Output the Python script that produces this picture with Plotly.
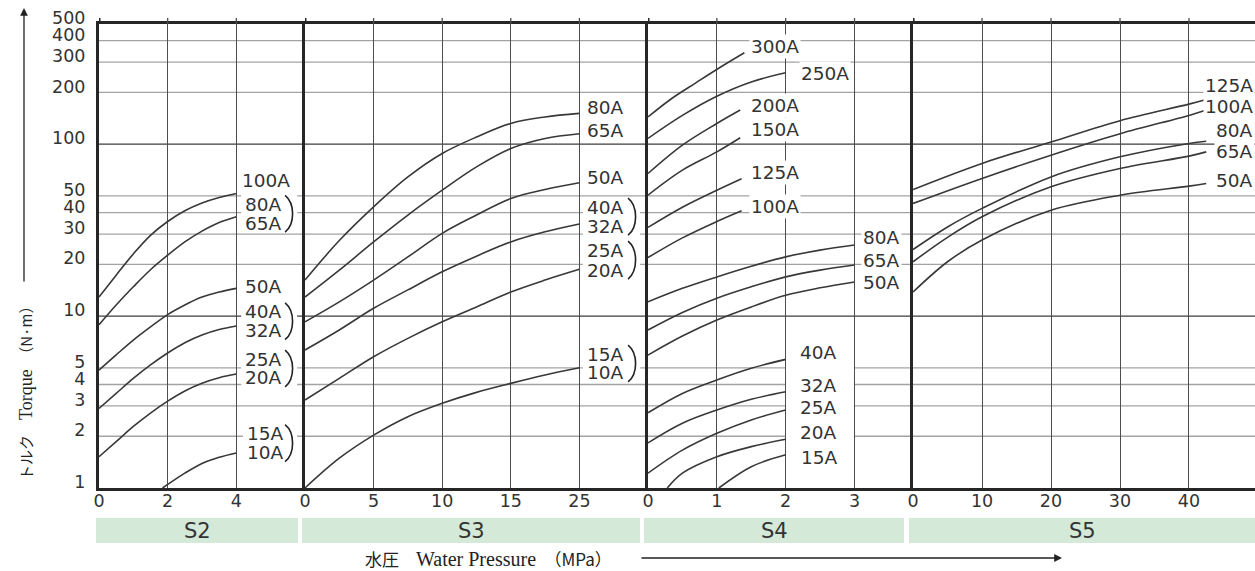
import math
import plotly.graph_objects as go

# ---------------- data ----------------
y_tick_vals = [1, 2, 3, 4, 5, 10, 20, 30, 40, 50, 100, 200, 300, 400, 500]
y_tick_text = ["1", "2", "3", "4", "5", "10", "20", "30", "40", "50", "100", "200", "300", "400", "500"]
y_grid_dark = [10, 100]
y_grid_light = [2, 3, 4, 5, 20, 30, 40, 50, 200, 300, 400]
y_max = 500

panel_names = ["S2", "S3", "S4", "S5"]
panel_x_max = [6, 25, 3.85, 49.57]
panel_tick_vals = [[0, 2, 4], [0, 5, 10, 15, 20], [0, 1, 2, 3], [0, 10, 20, 30, 40]]
panel_tick_text = [["0", "2", "4"], ["0", "5", "10", "15", "25"], ["0", "1", "2", "3"], ["0", "10", "20", "30", "40"]]

# S2
s2_x = [0, 0.5, 1, 1.5, 2, 2.5, 3, 3.5, 4]
s2_100A = [12.9, 17.3, 23.0, 29.5, 35.5, 41.0, 45.5, 49.0, 51.7]
s2_80A_65A = [8.9, 11.6, 14.8, 18.6, 22.6, 27.0, 31.2, 35.0, 37.8]
s2_50A = [4.85, 5.95, 7.25, 8.65, 10.2, 11.6, 12.9, 13.8, 14.5]
s2_40A_32A = [2.9, 3.55, 4.34, 5.2, 6.1, 7.0, 7.76, 8.35, 8.75]
s2_25A_20A = [1.52, 1.86, 2.28, 2.73, 3.2, 3.67, 4.07, 4.38, 4.6]
s2_15A_10A_x = [1.85, 2.5, 3, 3.5, 4]
s2_15A_10A = [1.0, 1.22, 1.39, 1.51, 1.60]

# S3
s3_x = [0, 2.5, 5, 7.5, 10, 12.5, 15, 17.5, 20]
s3_80A = [16.2, 27.5, 43.2, 64.5, 88.3, 110, 132, 144, 151]
s3_65A = [12.9, 18.5, 27.0, 38.7, 54.0, 73.8, 94.4, 108, 115]
s3_50A = [9.26, 12.1, 16.2, 22.1, 30.3, 38.7, 48.3, 54.5, 59.6]
s3_40A_32A = [6.35, 8.3, 11.1, 14.2, 18.1, 22.3, 27.0, 30.9, 34.3]
s3_25A_20A = [3.25, 4.34, 5.8, 7.42, 9.26, 11.3, 13.8, 16.2, 18.7]
s3_15A_10A = [1.0, 1.49, 2.03, 2.6, 3.11, 3.6, 4.06, 4.54, 5.0]

# S4
s4_300A_x = [0, 0.35, 0.7, 1.05, 1.4]
s4_300A = [144, 185, 228, 280, 340]
s4_250A_x = [0, 0.5, 1, 1.5, 2]
s4_250A = [108, 147, 190, 230, 260]
s4_200A_x = [0, 0.5, 1, 1.34]
s4_200A = [67.5, 98.7, 132, 158]
s4_150A_x = [0, 0.5, 1, 1.34]
s4_150A = [50.5, 70.6, 90.2, 109]
s4_125A_x = [0, 0.5, 1, 1.36]
s4_125A = [32.8, 43.0, 54.0, 63.0]
s4_100A_x = [0, 0.5, 1, 1.36]
s4_100A = [21.9, 28.5, 35.5, 41.0]
s4_mid_x = [0, 0.5, 1, 1.5, 2, 2.5, 3]
s4_80A = [12.1, 14.5, 16.9, 19.5, 22.1, 24.2, 25.9]
s4_65A = [8.3, 10.5, 12.7, 14.8, 16.9, 18.5, 19.8]
s4_50A = [5.93, 7.65, 9.48, 11.3, 13.2, 14.6, 15.8]
s4_small_x = [0, 0.5, 1, 1.5, 2]
s4_40A = [2.74, 3.55, 4.25, 4.97, 5.6]
s4_32A = [1.83, 2.38, 2.84, 3.28, 3.63]
s4_25A = [1.22, 1.66, 2.08, 2.49, 2.84]
s4_20A_x = [0.28, 0.5, 1, 1.5, 2]
s4_20A = [1.0, 1.22, 1.52, 1.74, 1.92]
s4_15A_x = [1.03, 1.5, 2]
s4_15A = [1.0, 1.33, 1.56]

# S5
s5_x = [0, 10, 20, 30, 40, 42.5]
s5_125A = [54.5, 77.3, 103, 137, 171, 182]
s5_100A = [45.2, 63.2, 86.3, 115, 147, 158]
s5_x_low = [0, 5, 10, 20, 30, 40, 42.5]
s5_80A = [24.4, 33.0, 42.3, 64.5, 84.4, 101, 104]
s5_65A = [20.7, 28.7, 37.8, 56.5, 72.2, 85.2, 90.2]
s5_50A = [13.8, 20.7, 27.7, 41.3, 50.5, 57.0, 59.1]

curves = [
    (0, s2_x, s2_100A, "100A"), (0, s2_x, s2_80A_65A, "80A/65A"), (0, s2_x, s2_50A, "50A"),
    (0, s2_x, s2_40A_32A, "40A/32A"), (0, s2_x, s2_25A_20A, "25A/20A"), (0, s2_15A_10A_x, s2_15A_10A, "15A/10A"),
    (1, s3_x, s3_80A, "80A"), (1, s3_x, s3_65A, "65A"), (1, s3_x, s3_50A, "50A"),
    (1, s3_x, s3_40A_32A, "40A/32A"), (1, s3_x, s3_25A_20A, "25A/20A"), (1, s3_x, s3_15A_10A, "15A/10A"),
    (2, s4_300A_x, s4_300A, "300A"), (2, s4_250A_x, s4_250A, "250A"), (2, s4_200A_x, s4_200A, "200A"),
    (2, s4_150A_x, s4_150A, "150A"), (2, s4_125A_x, s4_125A, "125A"), (2, s4_100A_x, s4_100A, "100A"),
    (2, s4_mid_x, s4_80A, "80A"), (2, s4_mid_x, s4_65A, "65A"), (2, s4_mid_x, s4_50A, "50A"),
    (2, s4_small_x, s4_40A, "40A"), (2, s4_small_x, s4_32A, "32A"), (2, s4_small_x, s4_25A, "25A"),
    (2, s4_20A_x, s4_20A, "20A"), (2, s4_15A_x, s4_15A, "15A"),
    (3, s5_x, s5_125A, "125A"), (3, s5_x, s5_100A, "100A"), (3, s5_x_low, s5_80A, "80A"),
    (3, s5_x_low, s5_65A, "65A"), (3, s5_x_low, s5_50A, "50A"),
]

# ---------------- layout constants ----------------
W, H = 1255, 571
ML, MR, MT, MB = 99, 0, 24, 83
PW, PH = W - ML - MR, H - MT - MB
domains = [[0, 0.1782], [0.1782, 0.4749], [0.4749, 0.7042], [0.7042, 1.0]]
LOGMAX = math.log10(y_max)
DECADE_PX = PH / LOGMAX
TXT = "#333333"
LINE = "#383838"
FONT = "DejaVu Sans"
LABEL_SIZE = 18.5
TICK_SIZE = 17.5


def sfx(i):
    return "" if i == 0 else str(i + 1)


def px_per_unit(i):
    return PW * (domains[i][1] - domains[i][0]) / panel_x_max[i]


def paper_y(logv):
    return logv / LOGMAX


# single labels with white box: (panel, text, x, log10 y, xanchor)
labels = [
    (0, "100A", 4.1, 1.791, "left"), (0, "50A", 4.2, 1.174, "left"),
    (1, "80A", 20.4, 2.215, "left"), (1, "65A", 20.4, 2.081, "left"), (1, "50A", 20.4, 1.808, "left"),
    (2, "300A", 1.47, 2.570, "left"), (2, "250A", 2.2, 2.413, "left"), (2, "200A", 1.47, 2.227, "left"),
    (2, "150A", 1.47, 2.087, "left"), (2, "125A", 1.47, 1.837, "left"), (2, "100A", 1.47, 1.640, "left"),
    (2, "80A", 3.1, 1.459, "left"), (2, "65A", 3.1, 1.326, "left"), (2, "50A", 3.1, 1.198, "left"),
    (3, "125A", 49.57, 2.343, "right"), (3, "100A", 49.57, 2.221, "right"), (3, "80A", 49.57, 2.081, "right"),
    (3, "65A", 49.57, 1.959, "right"), (3, "50A", 49.57, 1.791, "right"),
]
# labels without box (sit on a blanked area)
plain_labels = [
    (2, "40A", 2.18, 0.791), (2, "32A", 2.18, 0.599), (2, "25A", 2.18, 0.471),
    (2, "20A", 2.18, 0.320), (2, "15A", 2.2, 0.180),
]
# paired labels with a ")" bracket: (panel, top text, bottom text, x, log y top, log y bottom, bracket x)
pairs = [
    (0, "80A", "65A", 4.2, 1.650, 1.541, 5.42), (0, "40A", "32A", 4.2, 1.025, 0.915, 5.42),
    (0, "25A", "20A", 4.2, 0.750, 0.640, 5.42), (0, "15A", "10A", 4.25, 0.316, 0.206, 5.42),
    (1, "40A", "32A", 20.4, 1.634, 1.523, 23.55), (1, "25A", "20A", 20.4, 1.384, 1.267, 23.55),
    (1, "15A", "10A", 20.4, 0.779, 0.669, 23.55),
]

fig = go.Figure()
for p, xs, ys, name in curves:
    fig.add_trace(go.Scatter(
        x=xs, y=ys, mode="lines", name=f"{panel_names[p]} {name}",
        line=dict(color=LINE, width=1.6, shape="spline", smoothing=1.0),
        xaxis="x" + sfx(p), yaxis="y" + sfx(p), showlegend=False, hoverinfo="skip"))

layout = dict(
    width=W, height=H, margin=dict(l=ML, r=MR, t=MT, b=MB, autoexpand=False),
    paper_bgcolor="white", plot_bgcolor="rgba(0,0,0,0)", showlegend=False,
    font=dict(family=FONT, size=18, color=TXT),
)
for i in range(4):
    s = sfx(i)
    layout["xaxis" + s] = dict(
        domain=domains[i], range=[0, panel_x_max[i]], anchor="y" + s,
        tickvals=panel_tick_vals[i], ticktext=panel_tick_text[i],
        showgrid=True, gridcolor="#4d4d4d", gridwidth=1.3, zeroline=False,
        showline=True, linecolor="#262626", linewidth=2.5, mirror=True, ticks="",
        ticklabelstandoff=-5,
        tickfont=dict(family=FONT, size=TICK_SIZE, color=TXT), automargin=False, fixedrange=True)
    ydict = dict(
        type="log", range=[0, LOGMAX], domain=[0, 1], anchor="x" + s,
        showgrid=False, zeroline=False, showline=True, linecolor="#262626", linewidth=3,
        ticks="", showticklabels=(i == 0), tickvals=y_tick_vals, ticktext=y_tick_text,
        tickfont=dict(family=FONT, size=TICK_SIZE, color=TXT), automargin=False, fixedrange=True)
    if i == 0:
        ydict.update(ticklabelshift=-6, ticklabelstandoff=7)
    else:
        ydict["matches"] = "y"
    layout["yaxis" + s] = ydict
fig.update_layout(**layout)

shapes = []
for v in y_grid_light:
    shapes.append(dict(type="line", xref="paper", yref="y", x0=0, x1=1, y0=v, y1=v,
                       line=dict(color="#a3a3a3", width=1.3), layer="below"))
for v in y_grid_dark:
    shapes.append(dict(type="line", xref="paper", yref="y", x0=0, x1=1, y0=v, y1=v,
                       line=dict(color="#3c3c3c", width=1.3), layer="below"))
# blank column behind the small S4 labels
shapes.append(dict(type="rect", xref="x3", yref="y3", x0=2, x1=3, y0=1, y1=8,
                   fillcolor="white", line=dict(width=0), layer="below"))
# short stubs of the vertical lines above the top border
for i in range(4):
    for j, tv in enumerate(panel_tick_vals[i]):
        shapes.append(dict(type="line", xref="x" + sfx(i), yref="paper", x0=tv, x1=tv,
                           y0=1, y1=1 + 6 / PH,
                           line=dict(color="#262626" if j == 0 else "#4d4d4d", width=3 if j == 0 else 1.3)))


def px_to_val(logv, dpx):
    return 10 ** (logv + dpx / DECADE_PX)


# blank boxes behind paired labels + brackets
for p, t1, t2, x, ly1, ly2, bx in pairs:
    ppu = px_per_unit(p)
    shapes.append(dict(type="rect", xref="x" + sfx(p), yref="y" + sfx(p),
                       x0=x - 2 / ppu, x1=bx + 12 / ppu,
                       y0=px_to_val(ly2, -10), y1=px_to_val(ly1, 10),
                       fillcolor="white", line=dict(width=0), layer="below"))
    k = 10 / ppu
    y0 = paper_y(ly1) + 9 / PH
    y1 = paper_y(ly2) - 9 / PH
    h = y0 - y1
    path = f"M {bx},{y0} C {bx + k},{y0 - h * 0.22} {bx + k},{y1 + h * 0.22} {bx},{y1}"
    shapes.append(dict(type="path", xref="x" + sfx(p), yref="paper", path=path,
                       line=dict(color="#222222", width=1.6), layer="above"))

# S-bands under the axis
band_px = [(96, 298), (302, 640), (644, 904), (909, 1255)]
band_top, band_bot = (MT + PH - 518) / PH, (MT + PH - 543) / PH
for (a, b) in band_px:
    shapes.append(dict(type="rect", xref="paper", yref="paper",
                       x0=(a - ML) / PW, x1=(b - ML) / PW, y0=band_bot, y1=band_top,
                       fillcolor="#d4e9d7", line=dict(width=0), layer="below"))
fig.update_layout(shapes=shapes)

ann = []
lab_font = dict(family=FONT, size=LABEL_SIZE, color=TXT)
for p, text, x, ly, xa in labels:
    ann.append(dict(text=text, x=x, y=ly, xref="x" + sfx(p), yref="y" + sfx(p),
                    xanchor=xa, yanchor="middle", showarrow=False, bgcolor="white", borderpad=1,
                    font=lab_font))
for p, text, x, ly in plain_labels:
    ann.append(dict(text=text, x=x, y=ly, xref="x" + sfx(p), yref="y" + sfx(p),
                    xanchor="left", yanchor="middle", showarrow=False, font=lab_font))
for p, t1, t2, x, ly1, ly2, bx in pairs:
    for t, ly in ((t1, ly1), (t2, ly2)):
        ann.append(dict(text=t, x=x, y=ly, xref="x" + sfx(p), yref="y" + sfx(p),
                        xanchor="left", yanchor="middle", showarrow=False, font=lab_font))
for (a, b), name in zip(band_px, panel_names):
    ann.append(dict(text=name, x=((a + b) / 2 - ML) / PW, y=(band_top + band_bot) / 2,
                    xref="paper", yref="paper", showarrow=False, xanchor="center", yanchor="middle",
                    font=dict(family=FONT, size=21, color=TXT)))

CJK = "Noto Sans CJK JP"
SERIF = "Liberation Serif"
# x-axis title and arrow
ann.append(dict(
    text=f'水圧　<span style="font-family:{SERIF};font-size:20px">Water Pressure</span>　（MPa）',
    x=(488 - ML) / PW, y=(MT + PH - 558) / PH, xref="paper", yref="paper", showarrow=False,
    xanchor="center", yanchor="middle", font=dict(family=CJK, size=17, color="#222222")))
ann.append(dict(text="", x=(1062 - ML) / PW, y=(MT + PH - 558) / PH, xref="paper", yref="paper",
                showarrow=True, ax=-(1062 - 640), ay=0, axref="pixel", ayref="pixel",
                arrowhead=2, arrowsize=1.2, arrowwidth=1.3, arrowcolor="#222222"))
# y-axis title and arrow
ann.append(dict(
    text=f'トルク　<span style="font-family:{SERIF};font-size:18px">Torque</span>　（N·m）',
    x=(25 - ML) / PW, y=(MT + PH - 390) / PH, xref="paper", yref="paper", showarrow=False,
    textangle=-90, xanchor="center", yanchor="middle", font=dict(family=CJK, size=15, color="#222222")))
ann.append(dict(text="", x=(24 - ML) / PW, y=(MT + PH - 8) / PH, xref="paper", yref="paper",
                showarrow=True, ax=0, ay=283 - 8, axref="pixel", ayref="pixel",
                arrowhead=2, arrowsize=1.2, arrowwidth=1.3, arrowcolor="#222222"))
fig.update_layout(annotations=ann)

fig.write_html("out.html", config={"displayModeBar": False},
               post_script="document.body.style.margin='0px';document.body.style.padding='0px';")
